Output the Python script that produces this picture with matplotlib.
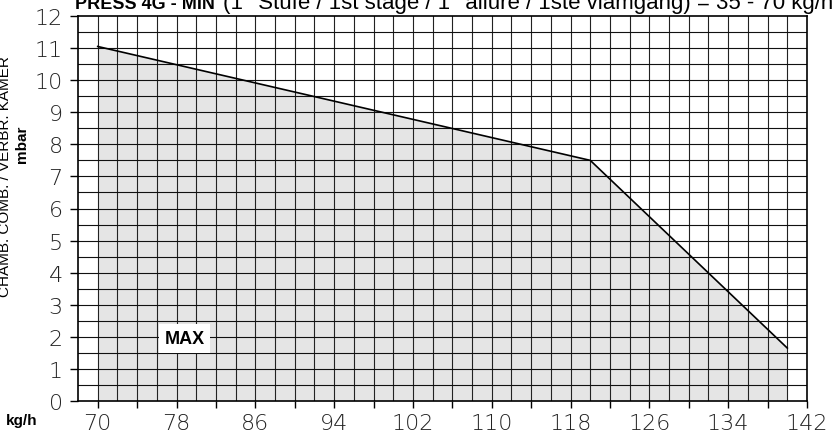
import matplotlib
matplotlib.use("Agg")
import numpy as np
import matplotlib.pyplot as plt

# data
flow_kgh = [70, 120, 140]
press_mbar = [11.05, 7.5, 1.65]
xtick_vals = list(range(70, 143, 8))
ytick_vals = list(range(0, 13))

plt.rcParams['font.family'] = ['Liberation Sans', 'DejaVu Sans']

fig = plt.figure(figsize=(8.35, 4.39), dpi=100)
ax = fig.add_axes([78 / 835, 37 / 439, 729 / 835, 385 / 439])

ax.set_xlim(68, 142)
ax.set_ylim(0, 12)

# grid (every 2 kg/h, every 0.5 mbar)
for gx in np.arange(70, 142, 2):
    ax.axvline(gx, color='#222222', lw=0.8, zorder=1)
for gy in np.arange(0.5, 12, 0.5):
    ax.axhline(gy, color='#111111', lw=0.8, zorder=1)

# area under the curve
ax.fill_between(flow_kgh, press_mbar, 0, color='#e5e5e5', zorder=0, lw=0)
ax.plot(flow_kgh, press_mbar, color='black', lw=1.2, zorder=2)

ax.text(78.8, 1.95, 'MAX', fontsize=13, fontweight='bold', ha='center', va='center',
        zorder=3, bbox=dict(facecolor='white', edgecolor='none', pad=4))

for s in ax.spines.values():
    s.set_linewidth(1.2)

ax.set_xticks(range(70, 143, 4))
ax.set_xticklabels([str(v) if v in xtick_vals else '' for v in range(70, 143, 4)])
ax.set_yticks(ytick_vals)
ax.tick_params(axis='x', length=5, width=1, pad=4)
ax.tick_params(axis='y', length=6, width=1, pad=5)
for lab in ax.get_xticklabels() + ax.get_yticklabels():
    lab.set_fontsize(16)
    lab.set_fontweight(200)
    lab.set_family(['DejaVu Sans'])
    lab.set_color('#222222')

# title in two parts
t1 = fig.text(75 / 835, 1 - 9 / 439, 'PRESS 4G - MIN', fontsize=13, fontweight='bold',
              va='baseline', ha='left')
fig.canvas.draw()
bb = t1.get_window_extent()
fig.text(bb.x1 / 835 + 8 / 835, 1 - 9 / 439,
         '(1° Stufe / 1st stage / 1° allure / 1ste vlamgang) = 35 - 70 kg/h',
         fontsize=16, va='baseline', ha='left')

fig.text(5 / 835, 1 - 177 / 439, 'CHAMB. COMB. / VERBR. KAMER', rotation=90,
         fontsize=11, ha='center', va='center')
fig.text(22 / 835, 1 - 144 / 439, 'mbar', rotation=90, fontsize=11,
         fontweight='bold', ha='center', va='center')
fig.text(22 / 835, 1 - 421 / 439, 'kg/h', fontsize=11, fontweight='bold',
         ha='center', va='center')

fig.savefig('out.png', dpi=100)
